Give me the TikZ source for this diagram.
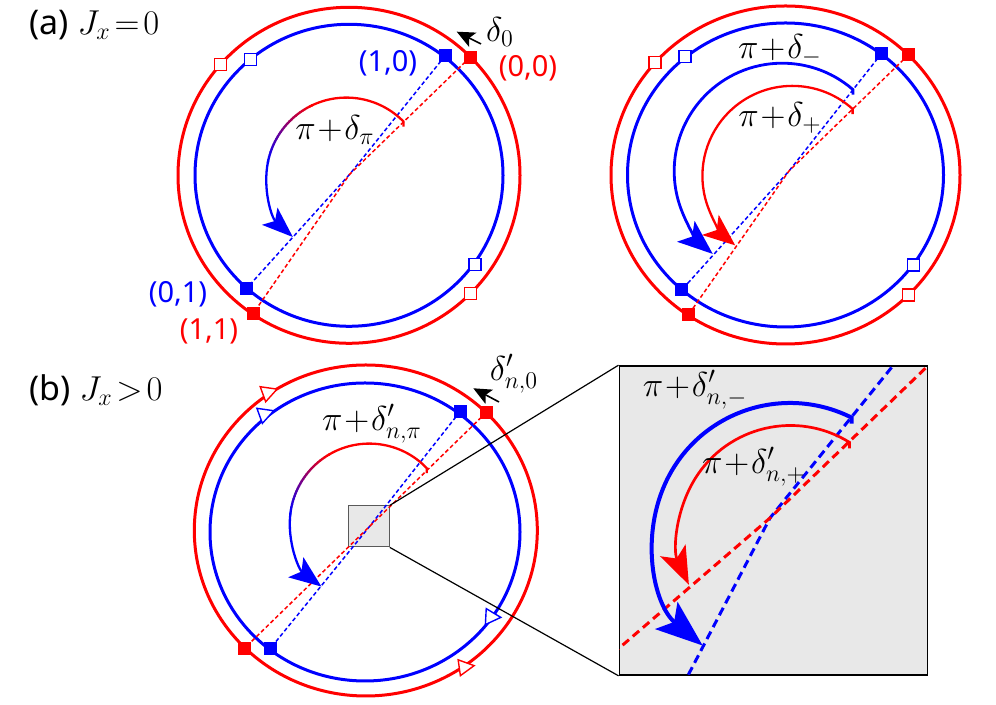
\documentclass[tikz,border=0pt]{standalone}
\usepackage{fontspec}
\setmainfont{Noto Sans}
\usetikzlibrary{arrows.meta}
\begin{document}
\begin{tikzpicture}[x=0.5pt,y=0.5pt,
  circ/.style={line width=1.5pt},
  dsh/.style={line width=0.75pt, dash pattern=on 2pt off 1.3pt},
  idsh/.style={line width=1.5pt, dash pattern=on 4.2pt off 2.5pt},
  fsq/.style={rectangle, fill=#1, minimum size=6.5pt, inner sep=0pt},
  hsq/.style={rectangle, draw=#1, fill=white, line width=0.6pt, minimum size=6pt, inner sep=0pt},
  arcw/.style={line width=1.15pt},
  lab/.style={font=\fontsize{14.5}{17}\selectfont, inner sep=0pt},
  mlab/.style={font=\fontsize{16.5}{19}\selectfont, inner sep=0pt},
  plab/.style={font=\fontsize{17}{20}\selectfont, inner sep=0pt, anchor=west},
  otri/.style={draw=#1, fill=white, line width=0.7pt},
  zline/.style={line width=0.6pt},
  dtip/.style={line width=0.8pt, -{Stealth[length=9pt, width=8pt, inset=2pt]}},
]
\useasboundingbox (0,0) rectangle (996,705);

% ================= panel (a) left =================
\coordinate (LAc) at (349,529.7);
\coordinate (LAx) at (349.5,530.5);
\coordinate (LAa) at (346.4,527.4);
\coordinate (LAbt) at (445,649);
\coordinate (LArt) at (470,647.7);
\coordinate (LAbb) at (246.7,416.7);
\coordinate (LArb) at (253.3,391.7);
\draw[red, circ] (LAc) ellipse [x radius=171, y radius=168];
\draw[blue, circ] (LAc) ellipse [x radius=154, y radius=151];
\draw[dsh, blue] (LAbt) -- (LAx) -- (LAbb);
\draw[dsh, red] (LArt) -- (LAx) -- (LArb);
\node[hsq=red] (LAh1) at (220.7,640.7) {};
\node[hsq=blue] (LAh2) at (250.7,645.7) {};
\node[hsq=blue] (LAh3) at (475,440.7) {};
\node[hsq=red] (LAh4) at (470.7,411.7) {};
\node[fsq=blue] (LAsbt) at (LAbt) {};
\node[fsq=red] (LAsrt) at (LArt) {};
\node[fsq=blue] (LAsbb) at (LAbb) {};
\node[fsq=red] (LAsrb) at (LArb) {};
\draw[red, arcw] (LAa) ++(44.5:80) ++(0,-5) -- ++(0,5) arc[start angle=44.5, end angle=116, radius=80];
\foreach \i in {0,...,26}{
  \pgfmathsetmacro\aa{115+2*\i}
  \pgfmathsetmacro\bb{\aa+2.4}
  \pgfmathtruncatemacro\pp{100-100*\i/26}
  \draw[red!\pp!blue, arcw] (LAa) ++(\aa:80) arc[start angle=\aa, end angle=\bb, radius=80];
}
\draw[blue, arcw, -{Stealth[length=15.5pt, width=11.5pt, inset=3.5pt]}] (LAa) ++(168:80) arc[start angle=168, end angle=228, radius=80];
\coordinate (LAd1) at (481,661);
\coordinate (LAd2) at (456.7,673.3);
\draw[dtip] (LAd1) -- (LAd2);
\node[mlab] (LAdl) at (500,673) {$\delta_0$};
\node[lab, text=blue] (LAl10) at (388,642) {(1,0)};
\node[lab, text=red] (LAl00) at (528,637) {(0,0)};
\node[lab, text=blue] (LAl01) at (178,411) {(0,1)};
\node[lab, text=red] (LAl11) at (209,374) {(1,1)};
\node[mlab] (LApi) at (335,575) {$\pi\!+\!\delta_\pi$};
\node[plab] (LAtitle) at (29,680) {(a) $J_x\!=\!0$};

% ================= panel (a) right =================
\coordinate (RAc) at (785.5,530);
\coordinate (RAx) at (789,534);
\coordinate (RAbt) at (881.7,651.7);
\coordinate (RArt) at (908.3,650);
\coordinate (RAbb) at (681.7,415);
\coordinate (RArb) at (688.3,390);
\coordinate (RAab) at (782.2,533.8);
\coordinate (RAar) at (792.4,529.1);
\draw[red, circ] (RAc) ellipse [x radius=174.5, y radius=169];
\draw[blue, circ] (RAc) ellipse [x radius=158, y radius=152];
\draw[dsh, blue] (RAbt) -- (RAx) -- (RAbb);
\draw[dsh, red] (RArt) -- (RAx) -- (RArb);
\node[hsq=red] (RAh1) at (655,642.7) {};
\node[hsq=blue] (RAh2) at (685,648.3) {};
\node[hsq=blue] (RAh3) at (913.3,440) {};
\node[hsq=red] (RAh4) at (908.3,410) {};
\node[fsq=blue] (RAsbt) at (RAbt) {};
\node[fsq=red] (RAsrt) at (RArt) {};
\node[fsq=blue] (RAsbb) at (RAbb) {};
\node[fsq=red] (RAsrb) at (RArb) {};
\draw[blue, line width=1.4pt, -{Stealth[length=17.5pt, width=13.5pt, inset=4pt]}] (RAab) ++(49:108) ++(0,-5) -- ++(0,5) arc[start angle=49, end angle=230, radius=108];
\draw[red, arcw, -{Stealth[length=16pt, width=13pt, inset=4pt]}] (RAar) ++(48:90) ++(0,-5) -- ++(0,5) arc[start angle=48, end angle=230.5, radius=90];
\node[mlab] (RAlm) at (780,655) {$\pi\!+\!\delta_-$};
\node[mlab] (RAlp) at (780,587) {$\pi\!+\!\delta_+$};

% ================= panel (b) =================
\coordinate (Bcr) at (365.8,174.5);
\coordinate (Bcb) at (365,173);
\coordinate (Bx) at (369.5,178.5);
\coordinate (Ba) at (369.3,181.9);
\coordinate (Bbt) at (460,293.3);
\coordinate (Brt) at (486,292.3);
\coordinate (Bbb) at (270.5,56.7);
\coordinate (Brb) at (244.5,56.7);
\draw[red, circ] (Bcr) ellipse [x radius=171.5, y radius=165.5];
\draw[blue, circ] (Bcb) ellipse [x radius=155, y radius=149];
\draw[otri=red, shift={(270,313.3)}, rotate=20] (-7.5,-8) -- (7.5,0) -- (-7.5,8) -- cycle;
\draw[otri=blue, shift={(266.7,291.7)}, rotate=20] (-7.5,-8) -- (7.5,0) -- (-7.5,8) -- cycle;
\draw[otri=blue, shift={(493.3,88)}, rotate=-3] (-7.5,-8) -- (7.5,0) -- (-7.5,8) -- cycle;
\draw[otri=red, shift={(466.7,38.3)}, rotate=8] (-7.5,-8) -- (7.5,0) -- (-7.5,8) -- cycle;
\node[draw=black!65, fill=black!9, minimum size=20.5pt, inner sep=0pt, line width=0.5pt] (sbox) at (368.8,178.6) {};
\draw[dsh, blue] (Bbt) -- (Bx) -- (Bbb);
\draw[dsh, red] (Brt) -- (Bx) -- (Brb);
\node[fsq=blue] (Bsbt) at (Bbt) {};
\node[fsq=red] (Bsrt) at (Brt) {};
\node[fsq=blue] (Bsbb) at (Bbb) {};
\node[fsq=red] (Bsrb) at (Brb) {};
\draw[red, arcw] (Ba) ++(43.7:79.5) ++(0,-5) -- ++(0,5) arc[start angle=43.7, end angle=121, radius=79.5];
\foreach \i in {0,...,26}{
  \pgfmathsetmacro\aa{120+2*\i}
  \pgfmathsetmacro\bb{\aa+2.4}
  \pgfmathtruncatemacro\pp{100-100*\i/26}
  \draw[red!\pp!blue, arcw] (Ba) ++(\aa:79.5) arc[start angle=\aa, end angle=\bb, radius=79.5];
}
\draw[blue, arcw, -{Stealth[length=16pt, width=12.5pt, inset=3.5pt]}] (Ba) ++(173:79.5) arc[start angle=173, end angle=233, radius=79.5];
\coordinate (Bd1) at (499,303);
\coordinate (Bd2) at (473.3,316.7);
\draw[dtip] (Bd1) -- (Bd2);
\node[mlab, font=\fontsize{17.5}{20}\selectfont] (Bdl) at (514,331) {$\delta'_{n,0}$};
\node[mlab, font=\fontsize{17.5}{20}\selectfont] (Blpi) at (372,281) {$\pi\!+\!\delta'_{n,\pi}$};
\node[plab] (Btitle) at (29,315) {(b) $J_x\!>\!0$};

% ================= inset =================
\node[draw=black, fill=black!9, minimum width=154pt, minimum height=154.5pt, inner sep=0pt, line width=0.8pt] (inset) at (773.3,184.5) {};
\draw[zline] (sbox.north east) -- (inset.north west);
\draw[zline] (sbox.south east) -- (inset.south west);
\coordinate (Ix) at (770,187);
\coordinate (Ibt) at (900,348);
\coordinate (Ibb) at (683,20);
\coordinate (Irt) at (935,346);
\coordinate (Irb) at (610,49);
\coordinate (Iab) at (790,165);
\coordinate (Iar) at (790.4,167.5);
\begin{scope}
\clip (619.3,30) rectangle (927.3,339);
\draw[idsh, blue] (Ibt) -- (Ix) -- (Ibb);
\draw[idsh, red] (Irt) -- (Ix) -- (Irb);
\end{scope}
\draw[blue, line width=2pt, -{Stealth[length=23.5pt, width=17.5pt, inset=5pt]}] (Iab) ++(63.3:137) ++(0,-6) -- ++(0,6) arc[start angle=63.3, end angle=230.4, radius=137];
\draw[red, line width=1.35pt, -{Stealth[length=19pt, width=14pt, inset=4.5pt]}] (Iar) ++(58.2:112) ++(0,-6) -- ++(0,6) arc[start angle=58.2, end angle=205, radius=112];
\node[mlab, font=\fontsize{17.5}{20}\selectfont] (Ilm) at (695,315) {$\pi\!+\!\delta'_{n,-}$};
\node[mlab, font=\fontsize{17.5}{20}\selectfont] (Ilp) at (754,238) {$\pi\!+\!\delta'_{n,+}$};
\end{tikzpicture}
\end{document}
